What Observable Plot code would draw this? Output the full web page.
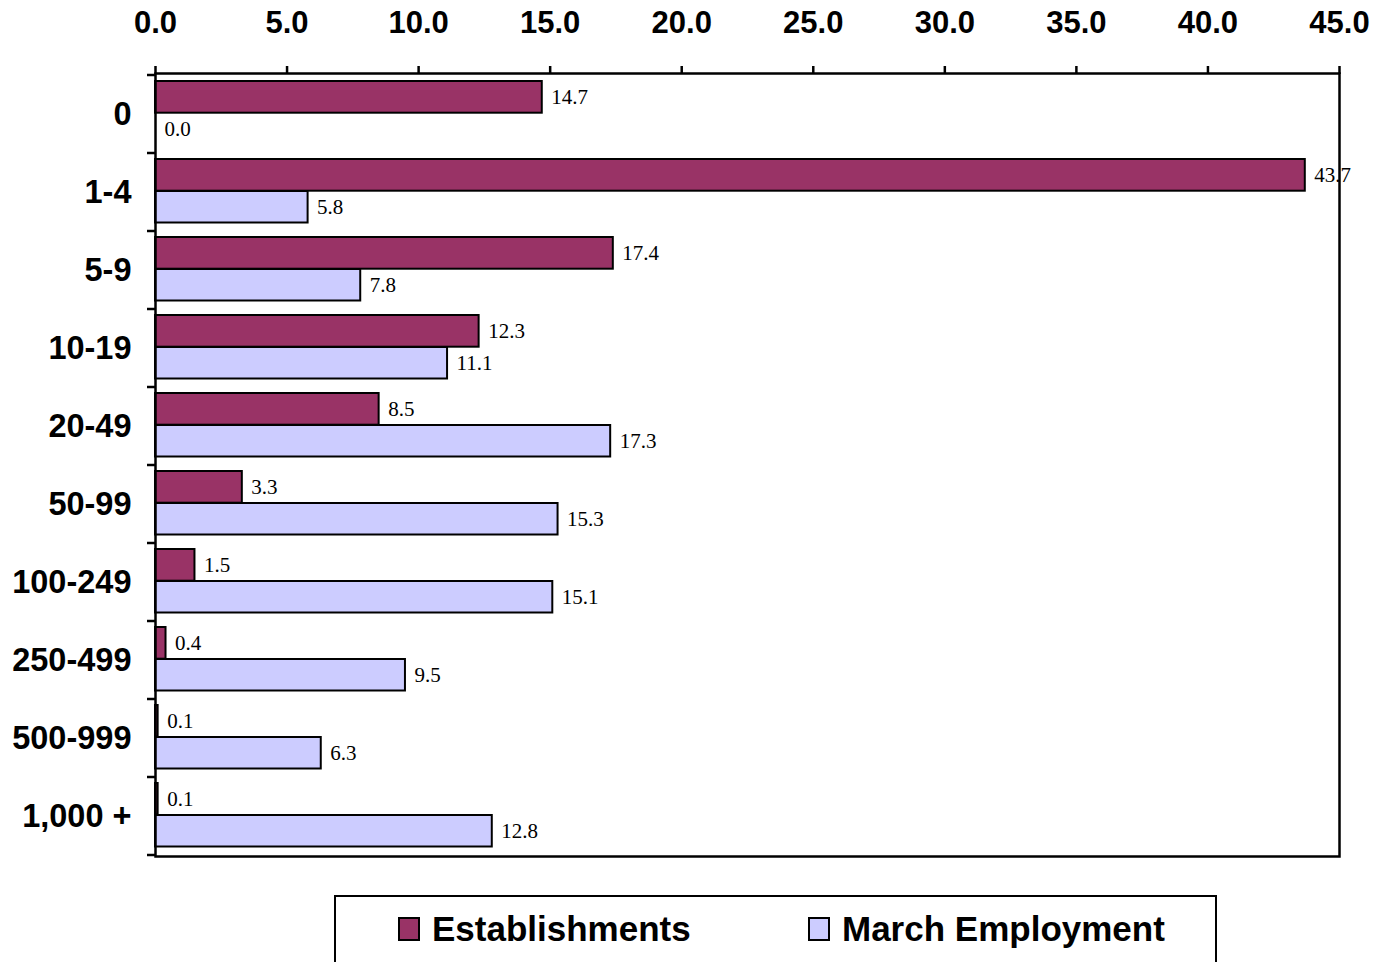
<!DOCTYPE html>
<html><head><meta charset="utf-8">
<script src="https://cdn.jsdelivr.net/npm/d3@7"></script>
<script src="https://cdn.jsdelivr.net/npm/@observablehq/plot@0.6"></script>
<style>
body{margin:0;background:#fff;font-family:"Liberation Sans",Arial,sans-serif;overflow:hidden;}
#chart svg{display:block;}
#legend{position:absolute;left:334px;top:895px;width:883px;height:90px;border:2.5px solid #000;background:#fff;box-sizing:border-box;}
.item{position:absolute;top:12px;display:flex;align-items:center;font-weight:bold;font-size:35px;color:#000;}
.sw{width:18px;height:20px;border:2.5px solid #000;margin-right:12px;}
</style></head><body>
<div id="chart"></div>
<div id="legend"></div>
<script>
const categories = ["0","1-4","5-9","10-19","20-49","50-99","100-249","250-499","500-999","1,000 +"];
const establishments = [14.7,43.7,17.4,12.3,8.5,3.3,1.5,0.4,0.1,0.1];
const marchEmployment = [0.0,5.8,7.8,11.1,17.3,15.3,15.1,9.5,6.3,12.8];
const xTicks = [0,5,10,15,20,25,30,35,40,45];
const seriesNames = ["Establishments","March Employment"];
const seriesColors = ["#993366","#CCCCFF"];

const est = categories.map((c,i)=>({category:c, value:establishments[i]}));
const emp = categories.map((c,i)=>({category:c, value:marchEmployment[i]}));

const chart = Plot.plot({
  width:1378, height:870,
  marginTop:73, marginBottom:14, marginLeft:155, marginRight:39,
  style:{fontFamily:"Liberation Sans, Arial, sans-serif", color:"#000", background:"#fff"},
  x:{domain:[0,45]},
  y:{domain:categories, padding:0},
  marks:[
    Plot.barX(est,{x:"value", y:"category", fill:seriesColors[0], stroke:"#000", strokeWidth:2, insetTop:6, insetBottom:40.3}),
    Plot.barX(emp,{x:"value", y:"category", fill:seriesColors[1], stroke:"#000", strokeWidth:2, insetTop:38, insetBottom:8.5}),
    Plot.text(est,{x:"value", y:"category", text:d=>d.value.toFixed(1), dx:9, dy:-17, textAnchor:"start", fontFamily:"Liberation Serif, Times New Roman, serif", fontSize:21, fill:"#000"}),
    Plot.text(emp,{x:"value", y:"category", text:d=>d.value.toFixed(1), dx:9, dy:15, textAnchor:"start", fontFamily:"Liberation Serif, Times New Roman, serif", fontSize:21, fill:"#000"}),
    Plot.frame({stroke:"#000", strokeWidth:2.5}),
    Plot.axisX(xTicks,{anchor:"top", label:null, tickSize:8, tickPadding:33, tickFormat:d=>d.toFixed(1), fontSize:31, fontWeight:"bold", strokeWidth:2.5}),
    Plot.axisY({label:null, tickSize:0, tickPadding:24, fontSize:32.5, fontWeight:"bold"})
  ]
});
document.getElementById("chart").appendChild(chart);

// category separator ticks on the left axis
const ys = chart.scale("y"), xs = chart.scale("x");
const x0 = xs.apply(0);
const bounds = categories.map(c=>ys.apply(c)).concat([ys.apply(categories[categories.length-1]) + ys.bandwidth]);
d3.select(chart).append("g").selectAll("line").data(bounds).join("line")
  .attr("x1", x0-8).attr("x2", x0).attr("y1", d=>d).attr("y2", d=>d)
  .attr("stroke","#000").attr("stroke-width",2.5);

// legend
const lg = document.getElementById("legend");
const lefts = [62, 472];
seriesNames.forEach((n,i)=>{
  const it = document.createElement("div");
  it.className="item"; it.style.left = lefts[i]+"px";
  const sw = document.createElement("div"); sw.className="sw"; sw.style.background = seriesColors[i];
  const tx = document.createElement("span"); tx.textContent = n;
  it.appendChild(sw); it.appendChild(tx); lg.appendChild(it);
});
</script>
</body></html>
